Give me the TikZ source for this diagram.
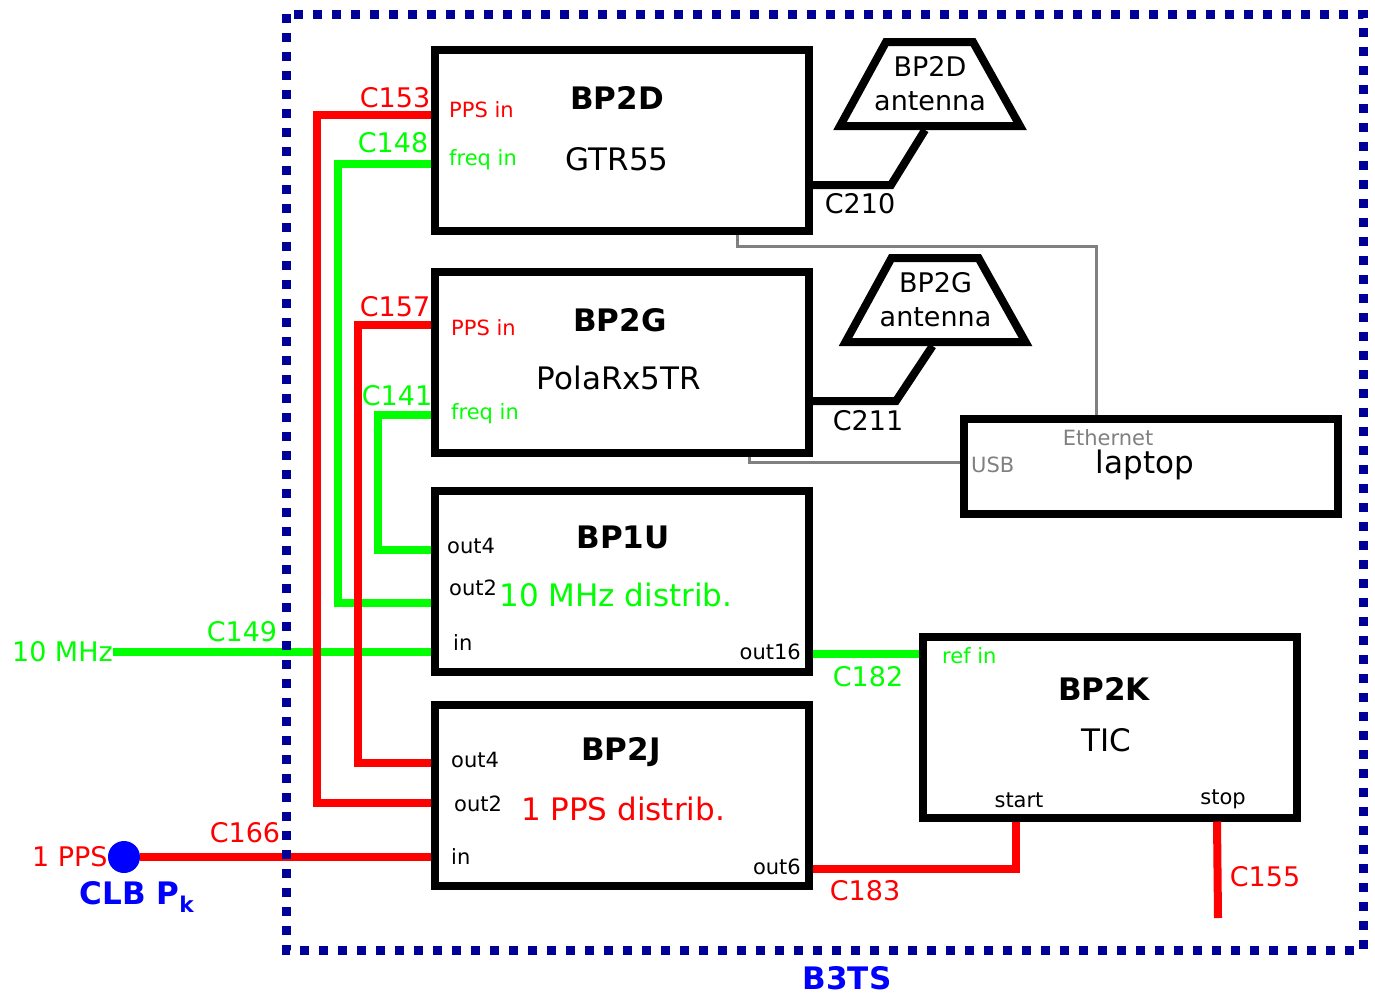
\documentclass[tikz,border=0pt]{standalone}
\usepackage{fontspec}
\setmainfont{DejaVu Sans}
\usepackage{tikz}
\usetikzlibrary{positioning,calc}
\definecolor{wirered}{RGB}{255,0,0}
\definecolor{wiregreen}{RGB}{0,255,0}
\definecolor{b3tsnavy}{RGB}{0,0,153}
\definecolor{clbblue}{RGB}{0,0,255}

\begin{document}
\begin{tikzpicture}[x=1pt,y=-1pt,
		unit/.style={draw, line width=8pt, minimum width=374pt, minimum height=181pt, inner sep=0pt},
		antlbl/.style={align=center, inner sep=0pt, font=\fontsize{27}{34}\selectfont},
		title/.style={inner sep=0pt, font=\bfseries\fontsize{31}{37}\selectfont},
		model/.style={inner sep=0pt, font=\fontsize{31}{37}\selectfont},
		port/.style={inner sep=0pt, font=\fontsize{21}{25}\selectfont},
		cablelbl/.style={inner sep=0pt, font=\fontsize{27}{32}\selectfont},
		pps/.style={draw=wirered, line width=8pt},
		freq/.style={draw=wiregreen, line width=8pt},
		rf/.style={draw, line width=8pt},
		lan/.style={draw=gray, line width=3pt}]
		\useasboundingbox (0,0) rectangle (1375,996);
		% Boxes
		\node[unit] (BP2D) at (622,140.5) {};
		\node[unit, below=33pt of BP2D] (BP2G) {};
		\node[unit, below=30pt of BP2G] (BP1U) {};
		\node[unit, below=25pt of BP1U] (BP2J) {};
		\node[unit] (BP2K) at (1109.5,727) {};
		\node[unit, minimum height=95pt] (laptop) at (1151,466.5) {};
		% Antennas
		\node[antlbl] (antD) at (930,84) {BP2D\\antenna};
		\node[antlbl] (antG) at (935.5,300) {BP2G\\antenna};
		\foreach \ant in {antD,antG}
			\draw[rf] (\ant.center) +(-44,-42) -- +(43,-42) -- +(90,42) -- +(-90,42) -- cycle;
		\coordinate (antDfeed) at ([xshift=-5pt,yshift=-46pt]antD.center);
		\coordinate (antGfeed) at ([xshift=-3pt,yshift=-46pt]antG.center);
		% Box texts
		\node[title] (tD) at (617,98) {BP2D};
		\node[model] (mD) at (617,159) {GTR55};
		\node[port, text=wirered, anchor=west] (dPPS) at (449,110) {PPS in};
		\node[port, text=wiregreen, anchor=west] (dFreq) at (449,160) {freq in};
		\node[title] (tG) at (620,320) {BP2G};
		\node[model] (mG) at (619,378) {PolaRx5TR};
		\node[port, text=wirered, anchor=west] (gPPS) at (451,328) {PPS in};
		\node[port, text=wiregreen, anchor=west] (gFreq) at (451,414) {freq in};
		\node[title] (tU) at (623,537) {BP1U};
		\node[model, text=wiregreen] (mU) at (616,595) {10 MHz distrib.};
		\node[port, anchor=west] (uOut4) at (447,546) {out4};
		\node[port, anchor=west] (uOut2) at (449,588) {out2};
		\node[port, anchor=west] (uIn) at (453,643) {in};
		\node[port, anchor=east] (uOut16) at (801,652) {out16};
		\node[title] (tJ) at (621,752) {BP2J};
		\node[model, text=wirered] (mJ) at (623,809) {1 PPS distrib.};
		\node[port, anchor=west] (jOut4) at (451,760) {out4};
		\node[port, anchor=west] (jOut2) at (454,804) {out2};
		\node[port, anchor=west] (jIn) at (451,857) {in};
		\node[port, anchor=east] (jOut6) at (801,867) {out6};
		\node[title] (tK) at (1104,689) {BP2K};
		\node[model] (mK) at (1106,740) {TIC};
		\node[port, text=wiregreen, anchor=west] (kRef) at (942,656) {ref in};
		\node[port] (kStart) at (1019,800) {start};
		\node[port] (kStop) at (1223,799) {stop};
		\node[port, text=gray] (lEth) at (1108,438) {Ethernet};
		\node[port, text=gray, anchor=west] (lUSB) at (971,465) {USB};
		\node[model] (mL) at (1145,465) {laptop};
		% Inputs
		\node[cablelbl, text=wiregreen, anchor=east] (tenMHz) at (113,652) {10 MHz};
		\node[circle, fill=clbblue, minimum size=32pt, inner sep=0pt] (clb) at (124,857) {};
		\node[cablelbl, text=wirered, anchor=east] (ppsIn) at (clb.west) {1 PPS};
		\node[inner sep=0pt, text=clbblue, font=\bfseries\fontsize{31}{37}\selectfont] (clbLbl) at (137,897) {CLB P\textsubscript{k}};
		\coordinate (stopEnd) at (1218,918);
		% 10 MHz wires
		\draw[freq] ([yshift=-23.5pt]BP2D.west) -- ++(-93,0) |- ([yshift=-21.5pt]BP1U.west);
		\draw[freq] ([yshift=-52.5pt]BP2G.west) -- ++(-53,0) |- ([yshift=31.5pt]BP1U.west);
		\draw[freq] (tenMHz.east) -- (tenMHz.east -| BP1U.west);
		\draw[freq] ([yshift=-72.5pt]BP1U.east) -- ([yshift=-72.5pt]BP1U.east -| BP2K.west);
		% 1 PPS wires
		\draw[pps] ([yshift=25.5pt]BP2D.west) -- ++(-114,0) |- ([yshift=-7.5pt]BP2J.west);
		\draw[pps] ([yshift=37.5pt]BP2G.west) -- ++(-73,0) |- ([yshift=32.5pt]BP2J.west);
		\draw[pps] (clb) -- (clb -| BP2J.west);
		\draw[pps] ([yshift=-73.5pt]BP2J.east) -| ([xshift=-93.5pt]BP2K.south);
		\draw[pps] ([xshift=107.5pt]BP2K.south) -- (stopEnd);
		% antenna cables
		\draw[rf] ([yshift=-44.5pt]BP2D.east) -- ++(78,0) -- (antDfeed);
		\draw[rf] ([yshift=-38.5pt]BP2G.east) -- ++(83,0) -- (antGfeed);
		% laptop links
		\draw[lan] ([xshift=115pt]BP2D.south) -- ++(0,11) -| ([xshift=-55pt]laptop.north);
		\draw[lan] ([xshift=127pt]BP2G.south) |- ([yshift=4.5pt]laptop.west);
		% cable labels
		\node[cablelbl, text=wirered] (l153) at (395,98) {C153};
		\node[cablelbl, text=wiregreen] (l148) at (393,143) {C148};
		\node[cablelbl, text=wirered] (l157) at (395,307) {C157};
		\node[cablelbl, text=wiregreen] (l141) at (397,396) {C141};
		\node[cablelbl, text=wiregreen] (l149) at (242,632) {C149};
		\node[cablelbl, text=wirered] (l166) at (245,833) {C166};
		\node[cablelbl, text=wiregreen] (l182) at (868,677) {C182};
		\node[cablelbl, text=wirered] (l183) at (865,891) {C183};
		\node[cablelbl, text=wirered] (l155) at (1265,877) {C155};
		\node[cablelbl] (l210) at (860,204) {C210};
		\node[cablelbl] (l211) at (868,421) {C211};
		% B3TS frame
		\draw[draw=b3tsnavy, line width=9pt, dash pattern=on 9pt off 10pt] (286,14) rectangle (1363,950);
		\node[inner sep=0pt, text=clbblue, font=\bfseries\fontsize{31}{37}\selectfont] (b3ts) at (847,978) {B3TS};
	\end{tikzpicture}
\end{document}
